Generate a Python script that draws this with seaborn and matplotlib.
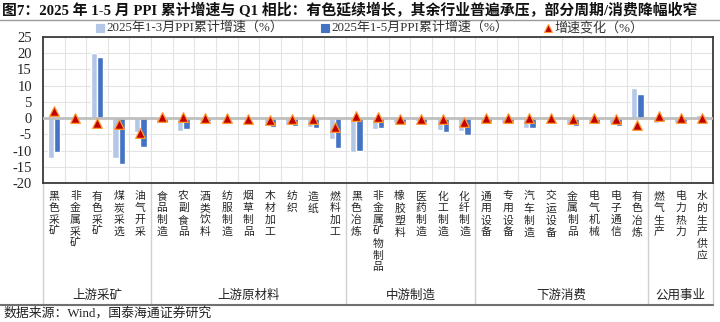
import numpy as np
import pandas as pd
import matplotlib
matplotlib.use('Agg')
import matplotlib.pyplot as plt
import seaborn as sns
from matplotlib.lines import Line2D

categories = ['黑色采矿', '非金属采矿', '有色采矿', '煤炭采选', '油气开采',
              '食品制造', '农副食品', '酒类饮料', '纺服制造', '烟草制品', '木材加工', '纺织', '造纸', '燃料加工',
              '黑色冶炼', '非金属矿物制品', '橡胶塑料', '医药制造', '化工制造', '化纤制造',
              '通用设备', '专用设备', '汽车制造', '交运设备', '金属制品', '电气机械', '电子通信', '有色冶炼',
              '燃气生产', '电力热力', '水的生产供应']
q1_growth = [-12.4, -0.3, 20.2, -12.3, -4.3,
             -1.6, -3.9, -0.9, -0.2, 0.5, -2.1, -2.0, -2.8, -6.4,
             -10.5, -3.3, -1.4, -1.0, -3.8, -3.9,
             -1.1, -1.4, -3.0, -0.1, -2.1, -1.3, -1.9, 9.3,
             -1.5, -1.4, 0.9]
ytd_growth = [-10.3, -0.2, 18.8, -14.1, -9.0,
              -1.2, -3.5, -0.9, -0.2, 0.3, -2.6, -2.3, -3.1, -9.2,
              -10.0, -3.0, -1.6, -1.4, -4.2, -5.2,
              -1.2, -1.3, -3.1, 0.0, -2.4, -1.4, -2.3, 7.3,
              -0.9, -1.3, 0.8]
change = [2.1, 0.1, -1.4, -1.8, -4.7,
          0.4, 0.4, 0.0, 0.0, -0.2, -0.5, -0.3, -0.3, -2.8,
          0.5, 0.3, -0.2, -0.4, -0.4, -1.3,
          -0.1, 0.1, -0.1, 0.1, -0.3, -0.1, -0.4, -2.0,
          0.6, 0.1, -0.1]
groups = ['上游采矿', '上游原材料', '中游制造', '下游消费', '公用事业']
group_sizes = [5, 9, 6, 8, 3]
series_names = ['2025年1-3月PPI累计增速（%）', '2025年1-5月PPI累计增速（%）']
change_name = '增速变化（%）'
yticks = [-20, -15, -10, -5, 0, 5, 10, 15, 20, 25]
title = '图7：2025 年 1-5 月 PPI 累计增速与 Q1 相比：有色延续增长，其余行业普遍承压，部分周期/消费降幅收窄'
source = '数据来源：Wind，国泰海通证券研究'

LIGHT = '#B4C7E7'
DARK = '#4472C4'
TRI_FILL = '#C00000'
TRI_EDGE = '#FF9933'
SERIF = ['Liberation Serif', 'Noto Sans CJK SC', 'DejaVu Sans']
CJK = ['Noto Sans CJK SC', 'DejaVu Sans']

sns.set_theme(style='white')
plt.rcParams['font.family'] = SERIF

W, H = 720, 322
fig = plt.figure(figsize=(W / 100, H / 100), dpi=100)
ax_l, ax_r, ax_t, ax_b = 43, 713, 37, 183
ax = fig.add_axes([ax_l / W, 1 - ax_b / H, (ax_r - ax_l) / W, (ax_b - ax_t) / H])

n = len(categories)
df = pd.DataFrame({
    'cat': categories * 2,
    'val': q1_growth + ytd_growth,
    'series': [series_names[0]] * n + [series_names[1]] * n,
})
sns.barplot(data=df, x='cat', y='val', hue='series', order=categories,
            hue_order=series_names, palette=[LIGHT, DARK], width=0.58,
            saturation=1, legend=False, ax=ax, zorder=3)
ax.axhline(0, color='#BFBFBF', lw=2, zorder=4)
sns.stripplot(x=categories, y=change, order=categories, jitter=False,
              marker='^', size=7, color=TRI_FILL, edgecolor=TRI_EDGE,
              linewidth=0.9, ax=ax, zorder=6)

ax.set_xlim(-0.5, n - 0.5)
ax.set_ylim(-20, 25)
ax.set_yticks(yticks)
ax.set_yticklabels([str(v) for v in yticks], fontsize=10.5, family=SERIF)
ax.set_xticks(np.arange(n))
ax.set_xticklabels(['\n'.join(c) for c in categories], fontsize=7.8,
                   family=CJK, linespacing=1.22, va='top')
ax.set_xticks(np.arange(-0.5, n, 1), minor=True)
ax.tick_params(axis='both', which='both', length=0)
ax.tick_params(axis='x', pad=6)
ax.tick_params(axis='y', pad=8)
ax.set_xlabel('')
ax.set_ylabel('')
ax.grid(which='minor', axis='x', color='#E3E3E3', lw=0.8, zorder=0)
ax.grid(which='major', axis='y', color='#E3E3E3', lw=0.8, zorder=0)
ax.grid(which='major', axis='x', visible=False)
for s in ax.spines.values():
    s.set_visible(True)
    s.set_color('#3A3A3A')
    s.set_linewidth(1.3)

# group separators and labels below the axis
ax_h = ax_b - ax_t
y_bottom = -(305 - ax_b) / ax_h
y_glabel = -(295 - ax_b) / ax_h
xt = ax.get_xaxis_transform()
start = 0
bounds = [-0.5]
for g, size in zip(groups, group_sizes):
    end = start + size
    bounds.append(end - 0.5)
    ax.text((start + end - 1) / 2, y_glabel, g, transform=xt, ha='center',
            va='center', fontsize=9, family=CJK, color='#222222')
    start = end
for b in bounds:
    ax.plot([b, b], [0, y_bottom], transform=xt, color='#D0D0D0', lw=1,
            clip_on=False, zorder=1)

# bottom rule, title rule
fig.add_artist(Line2D([0, ax_r / W], [1 - 305 / H, 1 - 305 / H],
                      transform=fig.transFigure, color='#707070', lw=1.5))
fig.add_artist(Line2D([0, 1], [1 - 19.5 / H, 1 - 19.5 / H],
                      transform=fig.transFigure, color='#9A9A9A', lw=1))

fig.text(2 / W, 1 - 10 / H, title, ha='left', va='center', fontsize=10.7,
         fontweight='bold', family=SERIF, color='#111111')
fig.text(3 / W, 1 - 313 / H, source, ha='left', va='center', fontsize=9.3,
         family=SERIF, color='#222222')

# legend
ly = 1 - 28 / H
leg_items = [(100, 's', LIGHT, LIGHT, series_names[0]),
             (325, 's', DARK, DARK, series_names[1]),
             (548, '^', TRI_FILL, TRI_EDGE, change_name)]
for x, m, fc, ec, lab in leg_items:
    fig.add_artist(Line2D([x / W], [ly], marker=m, markersize=5.5,
                          markerfacecolor=fc, markeredgecolor=ec,
                          markeredgewidth=0.8, linestyle='none',
                          transform=fig.transFigure))
    fig.text((x + 6) / W, ly, lab, ha='left', va='center', fontsize=9.4,
             family=SERIF, color='#333333')

fig.savefig('out.png', dpi=100)
